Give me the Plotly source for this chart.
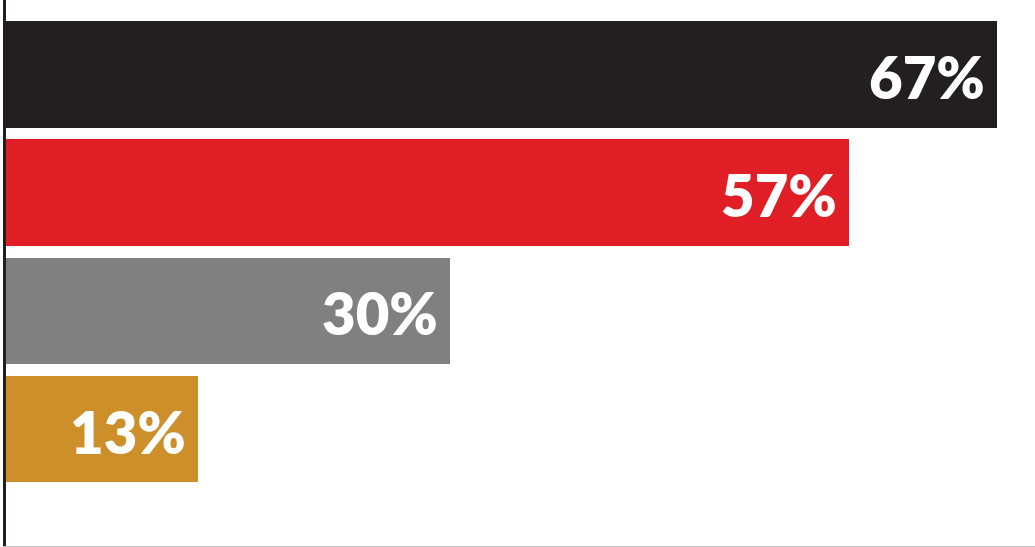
import plotly.graph_objects as go

# Share of respondents per group, top to bottom
categories = ["A", "B", "C", "D"]
values = [67, 57, 30, 13]
labels = ["67%", "57%", "30%", "13%"]
colors = ["#231f20", "#e01e26", "#808080", "#cc8f2a"]

positions = list(range(len(categories)))

fig = go.Figure(
    go.Bar(
        x=values,
        y=positions,
        orientation="h",
        width=0.9,
        marker=dict(color=colors, line=dict(width=0)),
        hoverinfo="skip",
    )
)

for pos, val, lab in zip(positions, values, labels):
    fig.add_annotation(
        x=val,
        y=pos,
        text=lab,
        xanchor="right",
        yanchor="middle",
        xshift=-10,
        yshift=-2,
        showarrow=False,
        font=dict(family="Lato", size=58, color="white", weight=800),
    )

fig.update_layout(
    width=1035,
    height=547,
    margin=dict(l=6, r=0, t=0, b=1),
    paper_bgcolor="white",
    plot_bgcolor="white",
    showlegend=False,
    bargap=0,
    xaxis=dict(
        range=[0, 69.6],
        showgrid=False,
        zeroline=False,
        showticklabels=False,
        ticks="",
        showline=True,
        linecolor="#bdbdbd",
        linewidth=1,
        fixedrange=True,
    ),
    yaxis=dict(
        range=[3.99, -0.63],
        showgrid=False,
        zeroline=False,
        showticklabels=False,
        ticks="",
        showline=True,
        linecolor="#231f20",
        linewidth=3,
        fixedrange=True,
    ),
)

fig.write_html("out.html", config={"displayModeBar": False})
